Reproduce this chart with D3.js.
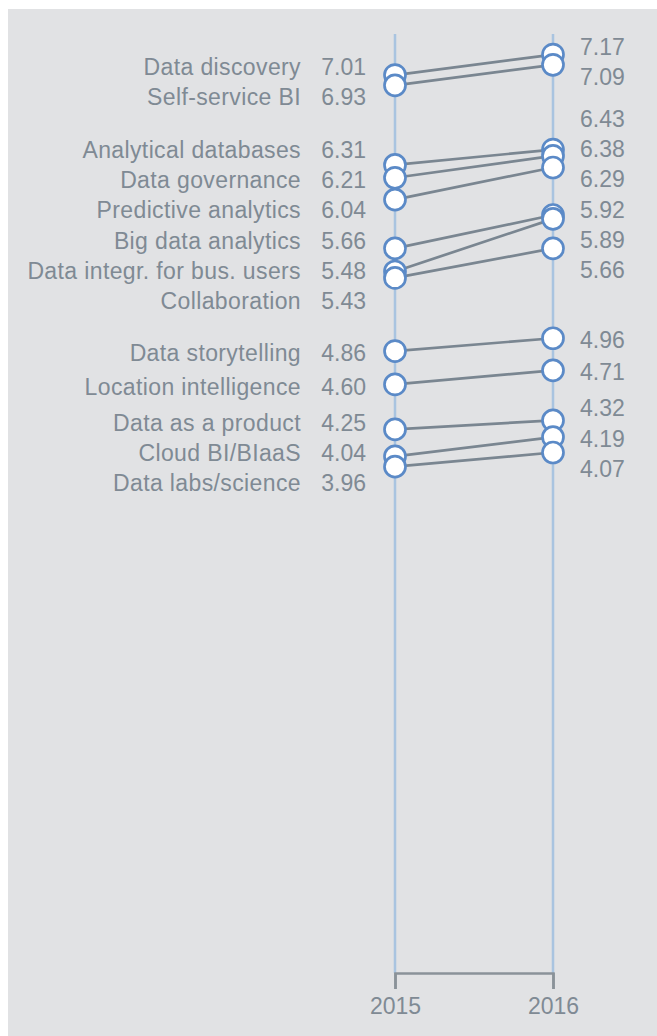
<!DOCTYPE html>
<html>
<head>
<meta charset="utf-8">
<script src="https://cdn.jsdelivr.net/npm/d3@7"></script>
<style>
    body { margin: 0; background: white; }
    svg { display: block; }
    text { font-family: "Liberation Sans", Arial, sans-serif; }
</style>
</head>
<body>
<svg id="slope-chart"></svg>
<script>
// data
const topics = [
    "Data discovery", "Self-service BI", "Analytical databases", "Data governance",
    "Predictive analytics", "Big data analytics", "Data integr. for bus. users",
    "Collaboration", "Data storytelling", "Location intelligence",
    "Data as a product", "Cloud BI/BIaaS", "Data labs/science"
];
const values2015 = [7.01, 6.93, 6.31, 6.21, 6.04, 5.66, 5.48, 5.43, 4.86, 4.60, 4.25, 4.04, 3.96];
const values2016 = [7.17, 7.09, 6.43, 6.38, 6.29, 5.92, 5.89, 5.66, 4.96, 4.71, 4.32, 4.19, 4.07];
const years = ["2015", "2016"];

const width = 657;
const height = 1036;
const textColor = "#7f8a94";
const fontSize = 23;
const labelGap = 30.3;

const svg = d3.select("#slope-chart")
    .attr("width", width)
    .attr("height", height);

svg.append("rect")
    .attr("x", 8)
    .attr("y", 9)
    .attr("width", width - 8)
    .attr("height", height - 9)
    .style("fill", "#e1e2e4");

const x = d3.scalePoint()
    .domain(years)
    .range([395, 553]);

const yMax = 7.33;
const y = d3.scaleLinear()
    .domain([0, yMax])
    .range([975, 34]);

const axisY = 973;

const rows = topics.map((t, i) => ({ topic: t, v0: values2015[i], v1: values2016[i] }));

//push labels apart so they don't overlap, clusters stay centred on their points
function spreadLabels(ys, gap) {
    const order = d3.range(ys.length).sort((a, b) => ys[a] - ys[b]);
    let groups = order.map(k => ({ idx: [k], center: ys[k] }));
    let merged = true;
    while (merged) {
        merged = false;
        for (let i = 0; i < groups.length - 1; i++) {
            const a = groups[i], b = groups[i + 1];
            const aBottom = a.center + (a.idx.length - 1) * gap / 2;
            const bTop = b.center - (b.idx.length - 1) * gap / 2;
            if (bTop - aBottom < gap) {
                const idx = a.idx.concat(b.idx);
                groups.splice(i, 2, { idx: idx, center: d3.mean(idx, k => ys[k]) });
                merged = true;
                break;
            }
        }
    }
    const out = new Array(ys.length);
    groups.forEach(g => {
        const start = g.center - (g.idx.length - 1) * gap / 2;
        g.idx.forEach((k, j) => { out[k] = start + j * gap; });
    });
    return out;
}

const leftLabelY = spreadLabels(rows.map(d => y(d.v0)), labelGap);
const rightValues = values2016.slice().sort((a, b) => b - a);
const rightLabelY = spreadLabels(rightValues.map(v => y(v)), labelGap);

//vertical year lines
svg.append("g")
    .selectAll("line")
    .data(years)
    .enter()
    .append("line")
    .attr("x1", d => x(d))
    .attr("x2", d => x(d))
    .attr("y1", y(yMax))
    .attr("y2", axisY)
    .style("stroke", "#a9c4e0")
    .style("stroke-width", 2.5);

//x axis
const xAxis = d3.axisBottom(x)
    .tickSize(16)
    .tickSizeOuter(16)
    .tickPadding(9);

const xAxisGroup = svg.append("g")
    .attr("transform", `translate(0,${axisY})`);

xAxis(xAxisGroup);

xAxisGroup.select(".domain")
    .style("stroke", "#8a9299")
    .style("stroke-width", 2.5);
xAxisGroup.selectAll(".tick line")
    .style("stroke", "#8a9299")
    .style("stroke-width", 2.5);
xAxisGroup.selectAll(".tick text")
    .style("font-family", "'Liberation Sans', Arial, sans-serif")
    .style("font-size", fontSize + "px")
    .style("fill", textColor);

//slope lines
svg.append("g")
    .selectAll("line")
    .data(rows)
    .enter()
    .append("line")
    .attr("x1", x("2015"))
    .attr("x2", x("2016"))
    .attr("y1", d => y(d.v0))
    .attr("y2", d => y(d.v1))
    .style("stroke", "#7a8691")
    .style("stroke-width", 2.7);

//circles
const dots = svg.append("g");
rows.forEach(d => {
    [["2015", d.v0], ["2016", d.v1]].forEach(([yr, v]) => {
        dots.append("circle")
            .attr("cx", x(yr))
            .attr("cy", y(v))
            .attr("r", 10.5)
            .style("fill", "white")
            .style("stroke", "#5b8ac7")
            .style("stroke-width", 2.7);
    });
});

//left labels (topic + 2015 value)
const leftG = svg.append("g");
leftG.selectAll("text.name")
    .data(rows)
    .enter()
    .append("text")
    .attr("class", "name")
    .attr("x", 301)
    .attr("y", (d, i) => leftLabelY[i] + 2)
    .attr("dy", "0.35em")
    .attr("text-anchor", "end")
    .style("font-size", fontSize + "px")
    .style("letter-spacing", "0.38px")
    .style("fill", textColor)
    .text(d => d.topic);

leftG.selectAll("text.val")
    .data(rows)
    .enter()
    .append("text")
    .attr("class", "val")
    .attr("x", 366)
    .attr("y", (d, i) => leftLabelY[i] + 2)
    .attr("dy", "0.35em")
    .attr("text-anchor", "end")
    .style("font-size", fontSize + "px")
    .style("fill", textColor)
    .text(d => d.v0.toFixed(2));

//right labels (2016 values, sorted)
svg.append("g")
    .selectAll("text")
    .data(rightValues)
    .enter()
    .append("text")
    .attr("x", 580)
    .attr("y", (d, i) => rightLabelY[i] + 2)
    .attr("dy", "0.35em")
    .style("font-size", fontSize + "px")
    .style("fill", textColor)
    .text(d => d.toFixed(2));
</script>
</body>
</html>
